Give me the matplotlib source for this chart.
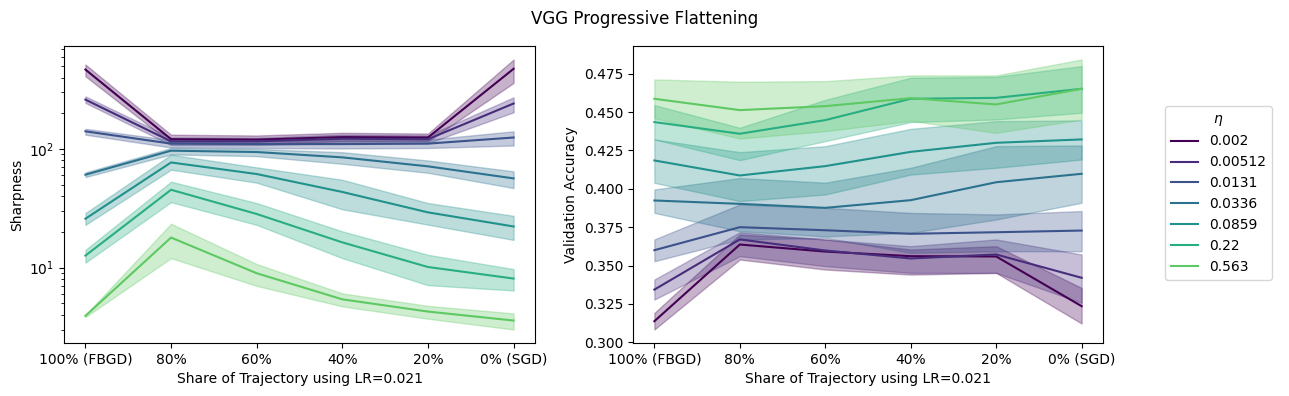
import numpy as np
import matplotlib
matplotlib.use("Agg")
import matplotlib.pyplot as plt

# Data
x_labels = ['100% (FBGD)', '80%', '60%', '40%', '20%', '0% (SGD)']
etas = ['0.002', '0.00512', '0.0131', '0.0336', '0.0859', '0.22', '0.563']

# sharpness: mean, lower, upper for each eta
sharp_mean = [
    [468, 121, 120, 126, 125, 475],
    [261, 116, 116, 122, 121, 242],
    [141, 111, 110, 110, 111, 125],
    [60.7, 96.8, 94.3, 85, 71.4, 56.5],
    [25.8, 77, 61.5, 43.4, 29.2, 22.2],
    [12.6, 45.3, 28.3, 16.3, 10.1, 8.07],
    [3.91, 17.9, 8.95, 5.39, 4.25, 3.57],
]
sharp_lo = [
    [411, 112, 111, 116, 116, 361],
    [245, 108, 108, 112, 112, 204],
    [132, 103, 102, 101, 102, 107],
    [58, 90, 87, 75, 63, 46.8],
    [22.9, 66.9, 52, 31, 23, 17.1],
    [11.0, 35.6, 22.9, 12.0, 7.1, 6.4],
    [3.82, 12.0, 7.0, 4.7, 3.7, 3.0],
]
sharp_hi = [
    [516, 132, 130, 137, 135, 569],
    [278, 125, 124, 132, 130, 273],
    [148, 119, 118, 119, 120, 141],
    [63.5, 102, 100, 94, 80, 64.8],
    [28.8, 89.5, 70, 55, 35, 27.3],
    [14.1, 53, 35, 20.2, 12.8, 9.7],
    [3.98, 23.4, 10.7, 6.05, 4.75, 4.1],
]

# validation accuracy: mean, lower, upper for each eta
acc_mean = [
    [0.3137, 0.3637, 0.3591, 0.3561, 0.3559, 0.3235],
    [0.3343, 0.3670, 0.3598, 0.3546, 0.3572, 0.3420],
    [0.3600, 0.3750, 0.3730, 0.3707, 0.3717, 0.3728],
    [0.3924, 0.3902, 0.3876, 0.3926, 0.4043, 0.4098],
    [0.4185, 0.4087, 0.4148, 0.4241, 0.4300, 0.4322],
    [0.4435, 0.4359, 0.4448, 0.4587, 0.4593, 0.4652],
    [0.4587, 0.4513, 0.4539, 0.4591, 0.4550, 0.4652],
]
acc_lo = [
    [0.3083, 0.3539, 0.3474, 0.3441, 0.3452, 0.3122],
    [0.3278, 0.3561, 0.3496, 0.3452, 0.3452, 0.3257],
    [0.3528, 0.3670, 0.3680, 0.3583, 0.3593, 0.3593],
    [0.3843, 0.3724, 0.3690, 0.3713, 0.3800, 0.3909],
    [0.4039, 0.3920, 0.3963, 0.4093, 0.4137, 0.4191],
    [0.4322, 0.4187, 0.4311, 0.4435, 0.4452, 0.4496],
    [0.4460, 0.4328, 0.4376, 0.4443, 0.4365, 0.4452],
]
acc_hi = [
    [0.3191, 0.3702, 0.3670, 0.3604, 0.3626, 0.3354],
    [0.3409, 0.3717, 0.3670, 0.3626, 0.3670, 0.3572],
    [0.3670, 0.3898, 0.3876, 0.3843, 0.3833, 0.3855],
    [0.3996, 0.4070, 0.4040, 0.4137, 0.4278, 0.4283],
    [0.4322, 0.4239, 0.4278, 0.4391, 0.4441, 0.4446],
    [0.4546, 0.4398, 0.4580, 0.4724, 0.4730, 0.4800],
    [0.4713, 0.4698, 0.4702, 0.4739, 0.4739, 0.4843],
]

colors = plt.cm.viridis(np.linspace(0, 1, 9))[:7]
x = np.arange(len(x_labels))

fig = plt.figure(figsize=(12.89, 3.96), dpi=100)
ax1 = fig.add_axes([64 / 1289, 53 / 396, 471 / 1289, 297 / 396])
ax2 = fig.add_axes([633 / 1289, 53 / 396, 470 / 1289, 297 / 396])

for i, eta in enumerate(etas):
    ax1.plot(x, sharp_mean[i], color=colors[i], lw=1.5, label=eta)
    ax1.fill_between(x, sharp_lo[i], sharp_hi[i], color=colors[i], alpha=0.3, lw=1)
    ax2.plot(x, acc_mean[i], color=colors[i], lw=1.5, label=eta)
    ax2.fill_between(x, acc_lo[i], acc_hi[i], color=colors[i], alpha=0.3, lw=1)

ax1.set_yscale('log')
ax1.set_ylabel('Sharpness')
ax2.set_ylabel('Validation Accuracy')
ax2.yaxis.set_major_formatter(matplotlib.ticker.FormatStrFormatter('%.3f'))
for ax in (ax1, ax2):
    ax.set_xticks(x)
    ax.set_xticklabels(x_labels)
    ax.set_xlabel('Share of Trajectory using LR=0.021')

handles, labels = ax2.get_legend_handles_labels()
fig.legend(handles, labels, title=r'$\eta$', loc='upper left',
           bbox_to_anchor=(1158 / 1289, 1 - 99 / 396))

fig.suptitle('VGG Progressive Flattening', y=0.975)

plt.savefig('out.png', dpi=100)
